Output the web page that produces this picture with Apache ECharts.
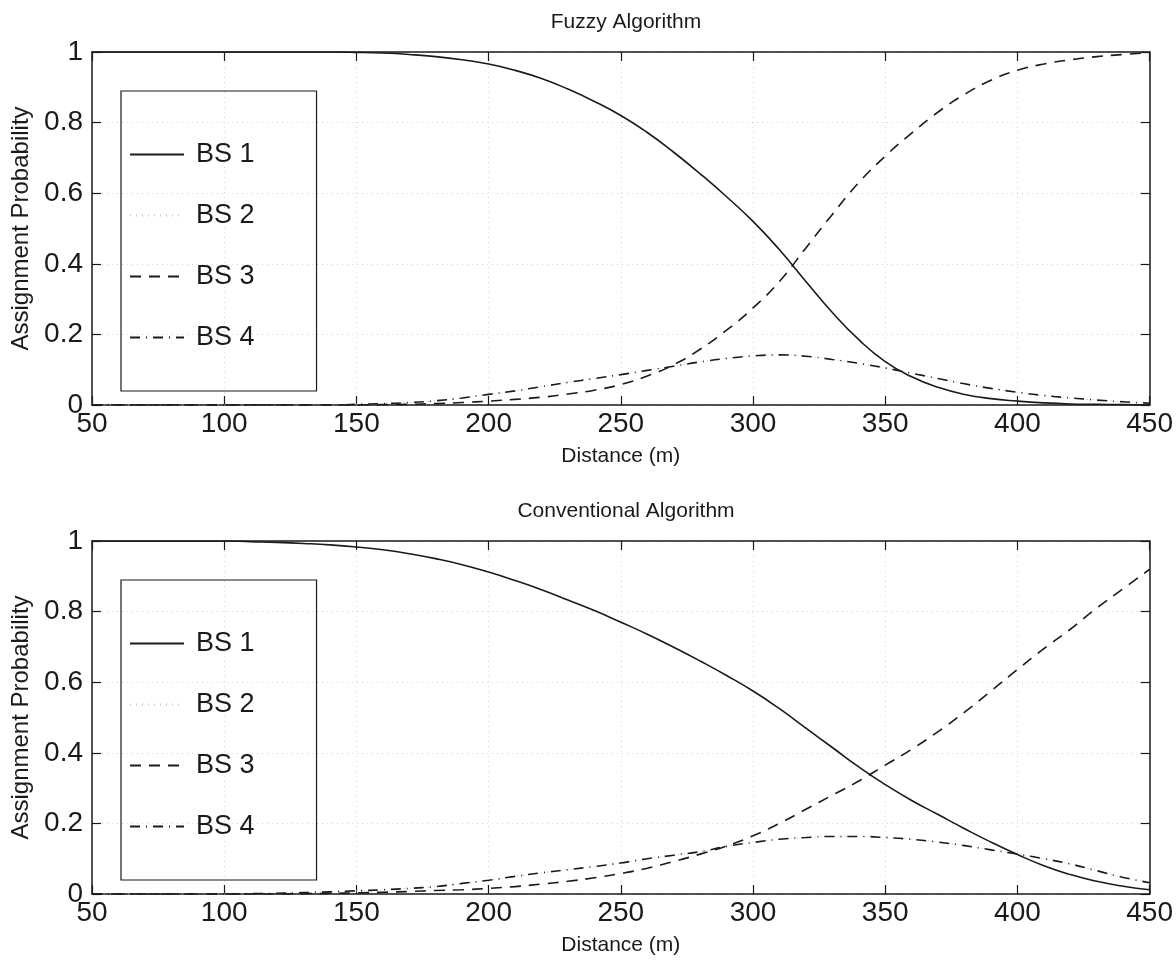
<!DOCTYPE html>
<html>
<head>
<meta charset="utf-8">
<script src="https://cdn.jsdelivr.net/npm/echarts@6/dist/echarts.min.js"></script>
<style>
html,body{margin:0;padding:0;background:#fff;}
#chart{width:1176px;height:974px;}
</style>
</head>
<body>
<div id="chart"></div>
<script>
// ---- data ----
const distance = [50,60,70,80,90,100,110,120,130,140,150,160,170,180,190,200,210,220,230,240,250,260,270,280,290,300,310,320,330,340,350,360,370,380,390,400,410,420,430,440,450];
const seriesNames = ['BS 1','BS 2','BS 3','BS 4'];
const titles = ['Fuzzy Algorithm','Conventional Algorithm'];
const xTitle = 'Distance (m)';
const yTitle = 'Assignment Probability';

const fuzzyBS1 = [1,1,1,1,1,1,1,1,1,1,0.999,0.997,0.993,0.987,0.978,0.966,0.948,0.925,0.895,0.86,0.82,0.772,0.716,0.655,0.59,0.52,0.44,0.35,0.262,0.185,0.123,0.08,0.05,0.03,0.018,0.011,0.006,0.003,0.002,0.001,0];
const fuzzyBS2 = [0,0,0,0,0,0,0,0,0,0,0.002,0.004,0.007,0.012,0.02,0.03,0.04,0.052,0.064,0.075,0.086,0.098,0.11,0.122,0.132,0.139,0.142,0.138,0.129,0.118,0.105,0.09,0.075,0.06,0.047,0.036,0.027,0.02,0.014,0.009,0.005];
const fuzzyBS3 = [0,0,0,0,0,0,0,0,0,0,0,0.001,0.002,0.004,0.007,0.011,0.016,0.022,0.031,0.042,0.058,0.082,0.114,0.158,0.212,0.275,0.35,0.445,0.54,0.63,0.705,0.77,0.83,0.88,0.92,0.948,0.966,0.978,0.987,0.993,0.998];
const fuzzyBS4 = [0,0,0,0,0,0,0,0,0,0,0.002,0.004,0.007,0.012,0.02,0.03,0.04,0.052,0.064,0.075,0.086,0.098,0.11,0.122,0.132,0.139,0.142,0.138,0.129,0.118,0.105,0.09,0.075,0.06,0.047,0.036,0.027,0.02,0.014,0.009,0.005];

const convBS1 = [1,1,1,1,1,1,0.998,0.996,0.993,0.989,0.983,0.975,0.964,0.95,0.933,0.912,0.888,0.862,0.833,0.803,0.77,0.736,0.699,0.66,0.619,0.575,0.525,0.47,0.415,0.36,0.31,0.265,0.225,0.185,0.147,0.112,0.08,0.055,0.036,0.022,0.012];
const convBS2 = [0,0,0,0,0,0,0.001,0.002,0.004,0.006,0.009,0.012,0.016,0.021,0.03,0.039,0.05,0.06,0.069,0.078,0.088,0.1,0.11,0.12,0.135,0.146,0.155,0.16,0.163,0.163,0.16,0.155,0.147,0.137,0.125,0.113,0.1,0.085,0.066,0.047,0.032];
const convBS3 = [0,0,0,0,0,0,0,0,0.001,0.002,0.003,0.005,0.007,0.01,0.012,0.016,0.021,0.028,0.036,0.046,0.058,0.073,0.092,0.113,0.136,0.165,0.2,0.24,0.28,0.32,0.365,0.41,0.46,0.515,0.575,0.636,0.695,0.75,0.81,0.865,0.92];
const convBS4 = [0,0,0,0,0,0,0.001,0.002,0.004,0.006,0.009,0.012,0.016,0.021,0.03,0.039,0.05,0.06,0.069,0.078,0.088,0.1,0.11,0.12,0.135,0.146,0.155,0.16,0.163,0.163,0.16,0.155,0.147,0.137,0.125,0.113,0.1,0.085,0.066,0.047,0.032];

// ---- chart ----
const FONT = 'Liberation Sans, Arial, Helvetica, sans-serif';
const INK = '#1a1a1a';
const pair = (xs, ys) => xs.map((x, i) => [x, ys[i]]);

const styles = [
  {type: 'solid', width: 1.6, color: INK},
  {type: [1, 5], width: 1, color: '#c4c4c4'},
  {type: [11, 8], width: 1.6, color: INK},
  {type: [10, 6, 1, 6], width: 1.6, color: INK}
];

const panels = [
  {top: 52, data: [fuzzyBS1, fuzzyBS2, fuzzyBS3, fuzzyBS4]},
  {top: 541, data: [convBS1, convBS2, convBS3, convBS4]}
];

const grid = [], xAxis = [], yAxis = [], series = [], legend = [], title = [];
panels.forEach((p, k) => {
  grid.push({left: 92, right: 26, top: p.top, height: 353, show: false});
  const tick = {show: true, inside: true, length: 9, lineStyle: {color: INK, width: 1.2}};
  const line = {show: true, onZero: false, lineStyle: {color: INK, width: 1.5}};
  xAxis.push({
    type: 'value', gridIndex: k, position: 'bottom', min: 50, max: 450, interval: 50,
    axisLine: line, axisTick: tick,
    axisLabel: {color: INK, fontSize: 28, fontFamily: FONT, margin: 5},
    splitLine: {show: true, lineStyle: {color: '#d4d4d4', type: [1, 4], width: 1}},
    name: xTitle, nameLocation: 'middle', nameGap: 41,
    nameTextStyle: {color: INK, fontSize: 21, fontFamily: FONT}
  });
  xAxis.push({
    type: 'value', gridIndex: k, position: 'top', min: 50, max: 450, interval: 50,
    axisLine: line, axisTick: tick, axisLabel: {show: false}, splitLine: {show: false}
  });
  yAxis.push({
    type: 'value', gridIndex: k, position: 'left', min: 0, max: 1, interval: 0.2,
    axisLine: line, axisTick: tick,
    axisLabel: {color: INK, fontSize: 28, fontFamily: FONT, margin: 9},
    splitLine: {show: true, lineStyle: {color: '#d4d4d4', type: [1, 4], width: 1}},
    name: yTitle, nameLocation: 'middle', nameGap: 58,
    nameTextStyle: {color: INK, fontSize: 24, fontFamily: FONT}
  });
  yAxis.push({
    type: 'value', gridIndex: k, position: 'right', min: 0, max: 1, interval: 0.2,
    axisLine: line, axisTick: tick, axisLabel: {show: false}, splitLine: {show: false}
  });
  seriesNames.forEach((name, j) => {
    series.push({
      name: name, type: 'line', xAxisIndex: 2 * k, yAxisIndex: 2 * k,
      data: pair(distance, p.data[j]), symbol: 'none', smooth: true,
      itemStyle: {color: 'rgba(0,0,0,0)'},
      lineStyle: styles[j], z: j === 1 ? 1 : 3
    });
  });
  legend.push({
    data: seriesNames, orient: 'vertical', left: 121, top: p.top + 39,
    padding: [50, 62, 40, 8], itemGap: 34, itemWidth: 54, itemHeight: 24,
    borderColor: INK, borderWidth: 1.2, backgroundColor: 'transparent',
    selectedMode: false,
    itemStyle: {opacity: 0},
    textStyle: {color: INK, fontSize: 27, fontFamily: FONT, padding: [0, 0, 0, 7]}
  });
  title.push({
    text: titles[k], left: 621, top: p.top - 45, textAlign: 'center',
    textStyle: {color: INK, fontSize: 21, fontWeight: 'normal', fontFamily: FONT}
  });
});

const chart = echarts.init(document.getElementById('chart'), null, {renderer: 'canvas'});
chart.setOption({
  backgroundColor: '#ffffff',
  animation: false,
  title: title, grid: grid, xAxis: xAxis, yAxis: yAxis, legend: legend, series: series
});
</script>
</body>
</html>
